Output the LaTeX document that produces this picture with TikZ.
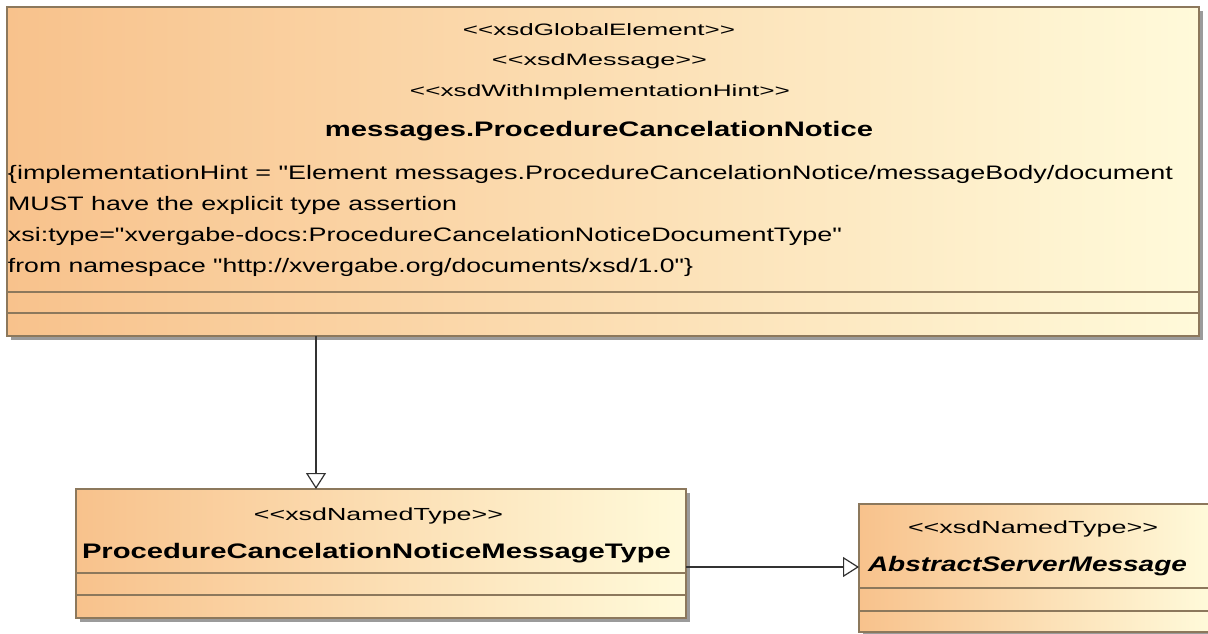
\documentclass[tikz,border=0pt]{standalone}
\usepackage{fontspec}
\setmainfont{Liberation Sans}[Ligatures=TeXOff]
\usetikzlibrary{arrows.meta,shadows}
\definecolor{umlleft}{RGB}{248,194,140}
\definecolor{umlright}{RGB}{255,250,218}
\definecolor{umlborder}{RGB}{140,120,92}
\definecolor{umlshadow}{RGB}{155,155,155}
\definecolor{connector}{RGB}{50,50,50}
\newcommand{\fitw}[2]{\resizebox{#1}{\height}{#2}}
\begin{document}
\begin{tikzpicture}[x=1pt,y=-1pt,
  umlbox/.style={draw=umlborder, line width=1.4pt, left color=umlleft, right color=umlright,
    anchor=north west, inner sep=0pt, outer sep=0pt,
    drop shadow={shadow xshift=4pt, shadow yshift=-4pt, fill=umlshadow, opacity=1}},
  divider/.style={draw=umlborder, line width=1.2pt},
  txt/.style={inner sep=0pt, outer sep=0pt, anchor=base, text=black},
  hint/.style={txt, anchor=base west, font=\fontsize{19.5}{22}\selectfont},
  stereo/.style={txt, font=\fontsize{16.5}{19}\selectfont},
  bname/.style={txt, font=\fontsize{21}{24}\selectfont\bfseries},
  gen/.style={draw=connector, line width=1.2pt, -{Triangle[length=16pt, width=20pt, fill=white]}},
]
\fill[white] (0,0) rectangle (1208,634);
\useasboundingbox (0,0) rectangle (1208,634);

% boxes
\node[umlbox, minimum width=1192pt, minimum height=329pt] (top) at (7,7) {};
\node[umlbox, minimum width=610pt, minimum height=129pt] (ptype) at (76,489) {};
\node[umlbox, minimum width=351pt, minimum height=128pt] (asm) at (859,504) {};

% compartments
\draw[divider] ([yshift=-285pt]top.north west) -- ([yshift=-285pt]top.north east);
\draw[divider] ([yshift=-306pt]top.north west) -- ([yshift=-306pt]top.north east);
\draw[divider] ([yshift=-84pt]ptype.north west) -- ([yshift=-84pt]ptype.north east);
\draw[divider] ([yshift=-106pt]ptype.north west) -- ([yshift=-106pt]ptype.north east);
\draw[divider] ([yshift=-84pt]asm.north west) -- ([yshift=-84pt]asm.north east);
\draw[divider] ([yshift=-107pt]asm.north west) -- ([yshift=-107pt]asm.north east);

% top box texts
\node[stereo] (s1) at (599,36) {\fitw{272pt}{<<xsdGlobalElement>>}};
\node[stereo] (s2) at (599.5,66) {\fitw{215pt}{<<xsdMessage>>}};
\node[stereo] (s3) at (600,96) {\fitw{380pt}{<<xsdWithImplementationHint>>}};
\node[bname] (n1) at (599,136) {\fitw{548pt}{messages.ProcedureCancelationNotice}};
\node[hint] (h1) at (8,179) {\fitw{1165pt}{\{implementationHint = "Element messages.ProcedureCancelationNotice/messageBody/document}};
\node[hint] (h2) at (8,210) {\fitw{449pt}{MUST have the explicit type assertion}};
\node[hint] (h3) at (8,241) {\fitw{834pt}{xsi:type="xvergabe-docs:ProcedureCancelationNoticeDocumentType"}};
\node[hint] (h4) at (8,272) {\fitw{685pt}{from namespace "http://xvergabe.org/documents/xsd/1.0"\}}};

% left box texts
\node[stereo, font=\fontsize{17.5}{20}\selectfont] (ls) at (378.5,520) {\fitw{249pt}{<<xsdNamedType>>}};
\node[bname] (ln) at (376.5,558) {\fitw{589pt}{ProcedureCancelationNoticeMessageType}};

% right box texts
\node[stereo, font=\fontsize{17.5}{20}\selectfont] (rs) at (1033,533) {\fitw{250pt}{<<xsdNamedType>>}};
\node[bname, font=\fontsize{21}{24}\selectfont\bfseries\itshape] (rn) at (1027.5,571) {\fitw{319pt}{AbstractServerMessage}};

% connectors
\coordinate (vx) at (316,0);
\coordinate (hy) at (0,567);
\draw[gen] (top.south -| vx) -- (ptype.north -| vx);
\draw[gen] (ptype.east |- hy) -- (asm.west |- hy);
\end{tikzpicture}
\end{document}
